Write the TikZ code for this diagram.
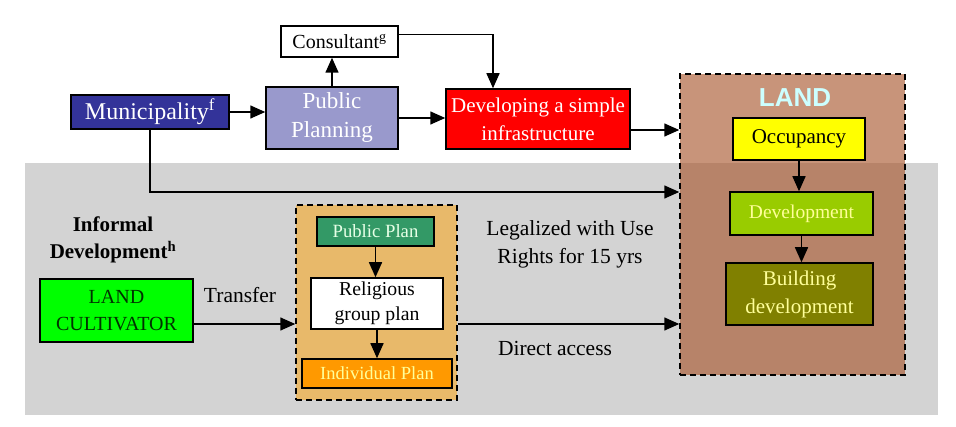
\documentclass[tikz,border=0pt]{standalone}
\usepackage{fontspec}
\setmainfont{Liberation Serif}
\newfontfamily\landfont{Liberation Sans}
\usepackage{xcolor}
\usetikzlibrary{arrows.meta,positioning,calc}
\definecolor{bggray}{HTML}{D3D3D3}
\definecolor{muniblue}{HTML}{333399}
\definecolor{planlilac}{HTML}{9999CC}
\definecolor{infrared}{HTML}{FF0000}
\definecolor{landbrown}{HTML}{A65228}
\definecolor{landcyan}{HTML}{CCFFFF}
\definecolor{occyellow}{HTML}{FFFF00}
\definecolor{devgreen}{HTML}{99CC00}
\definecolor{buildolive}{HTML}{808000}
\definecolor{paleyellow}{HTML}{FFFF99}
\definecolor{cultgreen}{HTML}{00FF00}
\definecolor{cultdark}{HTML}{003300}
\definecolor{plansorange}{HTML}{E8B96A}
\definecolor{pubgreen}{HTML}{339966}
\definecolor{pubtext}{HTML}{E6FFE6}
\definecolor{indivorange}{HTML}{FF9900}

\begin{document}
\begin{tikzpicture}[x=1pt,y=-1pt,>={Triangle[length=15pt,width=13pt]},
  bx/.style={draw=black,line width=1.5pt,inner sep=1pt,align=center,font=\fontsize{21}{28}\selectfont},
  grp/.style={draw=black,line width=1.5pt,dash pattern=on 6pt off 4pt,inner sep=0pt},
  ar/.style={->,line width=1.5pt},
  lab/.style={align=center,font=\fontsize{21.5}{28}\selectfont}]
\useasboundingbox (0,0) rectangle (956,427);
\fill[bggray] (25,163) rectangle (938,415);
% formal side
\node[bx,fill=white,minimum width=117pt,minimum height=31pt,font=\fontsize{20}{24}\selectfont] (consult) at (339.5,41.5) {Consultant\textsuperscript{g}};
\node[bx,fill=muniblue,text=white,minimum width=158pt,minimum height=34pt,font=\fontsize{24}{28}\selectfont] (muni) at (150,112) {Municipality\textsuperscript{f}};
\node[bx,fill=planlilac,text=white,minimum width=132pt,minimum height=62pt,font=\fontsize{23}{29}\selectfont] (pubplan) at (332,118) {Public\\Planning};
\node[bx,fill=infrared,text=white,minimum width=184pt,minimum height=60pt] (infra) at (538,119) {Developing a simple\\infrastructure};
% land box
\node[grp,fill=landbrown,fill opacity=0.62,minimum width=225pt,minimum height=301pt] (land) at (792.5,224.5) {};
\node[font=\landfont\bfseries\fontsize{26}{26}\selectfont,text=landcyan] (landlbl) at (795,98) {LAND};
\node[bx,fill=occyellow,minimum width=132pt,minimum height=42pt] (occup) at (799,139) {Occupancy};
\node[bx,fill=devgreen,text=paleyellow,minimum width=143pt,minimum height=43pt,font=\fontsize{19.5}{24}\selectfont] (devel) at (801.5,213.5) {Development};
\node[bx,fill=buildolive,text=paleyellow,minimum width=147pt,minimum height=62pt] (build) at (799.5,294) {Building\\development};
% informal side
\node[lab,font=\bfseries\fontsize{21}{27}\selectfont] (informal) at (113,240) {Informal\\Development\textsuperscript{h}};
\node[bx,fill=cultgreen,text=cultdark,minimum width=153pt,minimum height=63pt,font=\fontsize{20}{27}\selectfont] (cultiv) at (116.5,310.5) {LAND\\CULTIVATOR};
\node[grp,fill=plansorange,minimum width=161pt,minimum height=195pt] (plans) at (376.5,302.5) {};
\node[bx,fill=pubgreen,text=pubtext,minimum width=117pt,minimum height=29pt,font=\fontsize{18.7}{24}\selectfont] (pubpl) at (375.5,231.5) {Public Plan};
\node[bx,fill=white,minimum width=132pt,minimum height=51pt,font=\fontsize{19.7}{25}\selectfont] (relig) at (377,303.5) {Religious\\group plan};
\node[bx,fill=indivorange,text=paleyellow,minimum width=150pt,minimum height=29pt,font=\fontsize{18.5}{24}\selectfont] (indiv) at (377,373.5) {Individual Plan};
\node[lab] (transfer) at (240,295) {Transfer};
\node[lab] (legal) at (570,244) {Legalized with Use\\Rights for 15 yrs};
\node[lab] (direct) at (555,348) {Direct access};
% connectors
\draw[ar] (pubplan.north) -- (pubplan.north |- consult.south);
\draw[ar] (muni.east) -- (muni.east -| pubplan.west);
\draw[ar] (pubplan.east) -- (pubplan.east -| infra.west);
\draw[ar] ($(consult.east)+(0,-7)$) -| ($(infra.north)+(-45,0)$);
\coordinate (c1) at ($(infra.east)+(0,11)$);
\draw[ar] (c1) -- (c1 -| land.west);
\draw[ar] (muni.south) |- (land.west |- 0,192);
\draw[ar] (occup.south) -- (occup.south |- devel.north);
\draw[ar] (devel.south) -- (devel.south |- build.north);
\draw[ar] (pubpl.south) -- (pubpl.south |- relig.north);
\draw[ar] (relig.south) -- (relig.south |- indiv.north);
\draw[ar] (cultiv.east |- 0,324) -- (plans.west |- 0,324);
\draw[ar] (plans.east |- 0,324) -- (land.west |- 0,324);
\end{tikzpicture}
\end{document}
